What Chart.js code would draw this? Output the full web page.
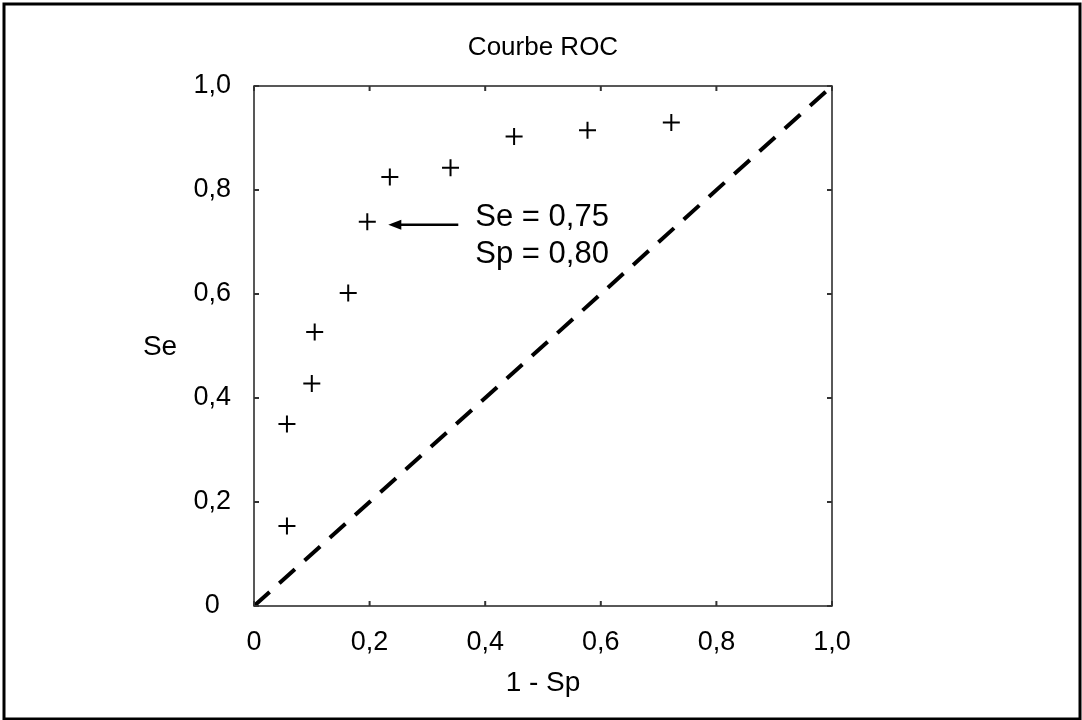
<!DOCTYPE html>
<html>
<head>
<meta charset="utf-8">
<script src="https://cdn.jsdelivr.net/npm/chart.js@4"></script>
<style>
html,body{margin:0;padding:0;background:#fff;}
#wrap{position:relative;width:1082px;height:720px;}
</style>
</head>
<body>
<div id="wrap"><canvas id="c" width="1082" height="720"></canvas></div>
<script>
const titleText = "Courbe ROC";
const xTitle = "1 - Sp";
const yTitle = "Se";
const tickValues = [0, 0.2, 0.4, 0.6, 0.8, 1.0];
const tickLabels = ["0", "0,2", "0,4", "0,6", "0,8", "1,0"];
const oneMinusSp = [0.057, 0.057, 0.100, 0.105, 0.163, 0.196, 0.235, 0.340, 0.450, 0.577, 0.722];
const se         = [0.154, 0.350, 0.428, 0.527, 0.602, 0.739, 0.825, 0.843, 0.903, 0.915, 0.930];
const diagX = [0, 1];
const diagY = [0, 1];
const annoLines = ["Se = 0,75", "Sp = 0,80"];
const annoPoint = {x: 0.196, y: 0.739};

const FONT = "'Liberation Sans', Arial, sans-serif";

const decor = {
  id: 'decor',
  afterDraw(chart) {
    const ctx = chart.ctx;
    const xs = chart.scales.x, ys = chart.scales.y;
    const a = chart.chartArea;
    ctx.save();
    // outer frame
    ctx.strokeStyle = '#000';
    ctx.lineWidth = 3;
    ctx.strokeRect(4, 4, 1076, 715);
    // plot frame
    ctx.strokeStyle = '#222';
    ctx.lineWidth = 1.5;
    ctx.strokeRect(a.left, a.top, a.right - a.left, a.bottom - a.top);
    // inside ticks
    ctx.lineWidth = 2;
    ctx.strokeStyle = '#333';
    tickValues.forEach(v => {
      const px = xs.getPixelForValue(v);
      const py = ys.getPixelForValue(v);
      ctx.beginPath();
      ctx.moveTo(px, a.bottom); ctx.lineTo(px, a.bottom - 5);
      ctx.moveTo(px, a.top); ctx.lineTo(px, a.top + 5);
      ctx.moveTo(a.left, py); ctx.lineTo(a.left + 5, py);
      ctx.moveTo(a.right, py); ctx.lineTo(a.right - 5, py);
      ctx.stroke();
    });
    // titles
    ctx.fillStyle = '#000';
    ctx.font = '26px ' + FONT;
    ctx.textAlign = 'center';
    ctx.textBaseline = 'middle';
    ctx.fillText(titleText, (a.left + a.right) / 2, 48);
    ctx.font = '28px ' + FONT;
    ctx.fillText(xTitle, (a.left + a.right) / 2, 683);
    ctx.fillText(yTitle, 160, 347);
    // annotation
    const ax = xs.getPixelForValue(annoPoint.x);
    const ay = ys.getPixelForValue(annoPoint.y);
    const y0 = ay + 3;
    ctx.strokeStyle = '#000';
    ctx.lineWidth = 2.5;
    ctx.beginPath();
    ctx.moveTo(ax + 91, y0); ctx.lineTo(ax + 30, y0);
    ctx.stroke();
    ctx.beginPath();
    ctx.moveTo(ax + 21, y0);
    ctx.lineTo(ax + 34, y0 - 5);
    ctx.lineTo(ax + 34, y0 + 5);
    ctx.closePath();
    ctx.fill();
    ctx.font = '31px ' + FONT;
    ctx.textAlign = 'left';
    ctx.textBaseline = 'alphabetic';
    ctx.fillText(annoLines[0], ax + 108, y0 + 1);
    ctx.fillText(annoLines[1], ax + 108, y0 + 38);
    ctx.restore();
  }
};

const fmt = v => {
  const i = tickValues.findIndex(t => Math.abs(t - v) < 1e-6);
  return i >= 0 ? tickLabels[i] : '';
};

new Chart(document.getElementById('c'), {
  type: 'scatter',
  data: {
    datasets: [
      {
        data: oneMinusSp.map((x, i) => ({x, y: se[i]})),
        pointStyle: 'cross',
        pointRadius: 8.5,
        pointBorderWidth: 2,
        borderColor: '#000',
        backgroundColor: '#000',
        showLine: false
      },
      {
        data: diagX.map((x, i) => ({x, y: diagY[i]})),
        showLine: true,
        pointRadius: 0,
        borderColor: '#000',
        borderWidth: 4,
        borderDash: [21, 13],
        fill: false
      }
    ]
  },
  options: {
    responsive: false,
    animation: false,
    events: [],
    layout: {padding: {left: 0, right: 250, top: 86, bottom: 0}},
    plugins: {legend: {display: false}, title: {display: false}, tooltip: {enabled: false}},
    scales: {
      x: {
        type: 'linear', min: 0, max: 1,
        afterBuildTicks: s => { s.ticks = tickValues.map(v => ({value: v})); },
        afterFit: s => { s.height = 114; },
        grid: {display: false, drawTicks: false},
        border: {display: false},
        ticks: {callback: fmt, color: '#000', font: {family: FONT, size: 27}, padding: 20, maxRotation: 0}
      },
      y: {
        type: 'linear', min: 0, max: 1,
        afterBuildTicks: s => { s.ticks = tickValues.map(v => ({value: v})); },
        afterFit: s => { s.width = 254; },
        grid: {display: false, drawTicks: false},
        border: {display: false},
        ticks: {callback: fmt, color: '#000', font: {family: FONT, size: 27}, padding: 23, crossAlign: 'center'}
      }
    }
  },
  plugins: [decor]
});
</script>
</body>
</html>
